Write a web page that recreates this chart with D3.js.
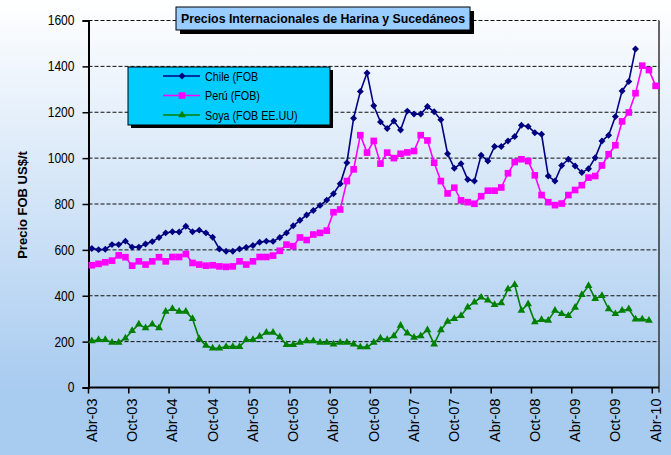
<!DOCTYPE html>
<html>
<head>
<meta charset="utf-8">
<script src="https://cdn.jsdelivr.net/npm/d3@7"></script>
<style>
body { margin: 0; }
</style>
</head>
<body>

<svg id='chart'></svg>

<script>
// monthly categories Abr-03 .. Abr-10
var monthNames = ['Ene', 'Feb', 'Mar', 'Abr', 'May', 'Jun', 'Jul', 'Ago', 'Sep', 'Oct', 'Nov', 'Dic'];
var months = [];
for (var m = 3; m <= 87; m++) {
	months.push(monthNames[m % 12] + '-' + String(3 + Math.floor(m / 12)).padStart(2, '0'));
}

var tickLabels = ['Abr-03', 'Oct-03', 'Abr-04', 'Oct-04', 'Abr-05', 'Oct-05', 'Abr-06', 'Oct-06',
	'Abr-07', 'Oct-07', 'Abr-08', 'Oct-08', 'Abr-09', 'Oct-09', 'Abr-10'];
var yTicks = [0, 200, 400, 600, 800, 1000, 1200, 1400, 1600];

var chile = [606, 601, 603, 623, 623, 638, 612, 612, 626, 636, 654, 674, 679, 678, 703, 679, 686, 674, 655, 604,
	594, 594, 604, 611, 619, 633, 638, 637, 654, 674, 705, 729, 752, 772, 794, 817, 845, 888, 980, 1174,
	1291, 1371, 1228, 1158, 1129, 1162, 1123, 1205, 1192, 1192, 1225, 1202, 1167, 1019, 956, 976, 907, 900, 1013, 987,
	1051, 1051, 1075, 1094, 1143, 1138, 1111, 1104, 922, 900, 968, 995, 966, 937, 954, 1002, 1075, 1100, 1181, 1293,
	1334, 1476];

var peru = [533, 539, 546, 553, 576, 568, 531, 550, 536, 550, 568, 550, 569, 569, 582, 543, 536, 531, 533, 528,
	526, 528, 550, 536, 550, 569, 569, 575, 596, 623, 616, 654, 643, 667, 674, 684, 764, 776, 900, 951,
	1100, 1024, 1075, 976, 1024, 1000, 1019, 1025, 1031, 1100, 1077, 980, 900, 846, 871, 816, 808, 801, 834, 858,
	858, 872, 934, 983, 995, 987, 925, 839, 808, 795, 802, 839, 861, 882, 915, 922, 968, 1017, 1056, 1160,
	1199, 1283, 1403, 1384, 1315];

var soya = [203, 208, 208, 196, 196, 215, 247, 276, 259, 276, 259, 331, 343, 331, 331, 300, 212, 183, 171, 171,
	178, 178, 178, 208, 208, 222, 240, 240, 220, 186, 186, 196, 203, 203, 196, 196, 189, 196, 196, 189,
	176, 176, 196, 215, 208, 225, 270, 237, 218, 225, 251, 189, 251, 288, 300, 313, 350, 372, 393, 380,
	361, 368, 429, 448, 336, 364, 285, 295, 292, 336, 321, 313, 349, 404, 444, 387, 400, 342, 321, 336,
	342, 298, 298, 292];

var series = [
	{ name: 'Chile (FOB', values: chile, color: '#000080', symbol: 'diamond' },
	{ name: 'Perú (FOB)', values: peru, color: '#ff00ff', symbol: 'square' },
	{ name: 'Soya (FOB EE.UU)', values: soya, color: '#008000', symbol: 'triangle' }
];

var dims = {
	width: 671,
	height: 455,
	left: 88.5,
	right: 659,
	top: 20.5,
	bottom: 387.5
};

var sans = '"Liberation Sans", Arial, sans-serif';

// the original picture is squeezed sideways, so horizontal text runs narrower
function squeeze(sel, f) {
	sel.each(function() {
		var w = this.getComputedTextLength();
		d3.select(this)
			.attr('textLength', w * f)
			.attr('lengthAdjust', 'spacingAndGlyphs');
	});
}

var svg = d3.select('#chart')
	.attr('width', dims.width)
	.attr('height', dims.height);

var grad = svg.append('defs')
	.append('linearGradient')
		.attr('id', 'bg')
		.attr('x1', 0).attr('y1', 0)
		.attr('x2', 0).attr('y2', 1);
grad.append('stop').attr('offset', 0).attr('stop-color', '#ffffff');
grad.append('stop').attr('offset', 0.86).attr('stop-color', '#a8cbf0');
grad.append('stop').attr('offset', 1).attr('stop-color', '#a8cbf0');

svg.append('rect')
	.attr('width', dims.width)
	.attr('height', dims.height)
	.attr('fill', 'url(#bg)');

var x = d3.scaleBand().domain(months).range([dims.left, dims.right]);
var y = d3.scaleLinear().domain([0, 1600]).range([dims.bottom, dims.top]);
var bw = x.bandwidth();

// dashed grid lines
svg.append('g')
	.selectAll('line')
	.data(yTicks.filter(d => d > 0))
	.enter()
	.append('line')
		.attr('x1', dims.left)
		.attr('x2', dims.right)
		.attr('y1', d => y(d))
		.attr('y2', d => y(d))
		.attr('stroke', '#111')
		.attr('stroke-width', 1)
		.attr('stroke-dasharray', '4,2');

// right border
svg.append('line')
	.attr('x1', dims.right).attr('x2', dims.right)
	.attr('y1', dims.top).attr('y2', dims.bottom + 5)
	.attr('stroke', '#333')
	.attr('stroke-width', 1.5);

// y axis
var yAxis = svg.append('g')
	.attr('transform', 'translate(' + dims.left + ',0)')
	.call(d3.axisLeft(y).tickValues(yTicks).tickFormat(d3.format('d')).tickSize(6).tickPadding(8));
yAxis.select('.domain').attr('stroke', '#000').attr('stroke-width', 2);
yAxis.selectAll('.tick line').attr('stroke', '#000').attr('stroke-width', 1.5);
yAxis.selectAll('.tick text')
	.attr('font-family', sans)
	.attr('font-size', 14)
	.attr('fill', '#000')
	.call(squeeze, 0.86);

svg.append('text')
	.attr('transform', 'translate(27,205) rotate(-90)')
	.attr('text-anchor', 'middle')
	.attr('font-family', sans)
	.attr('font-weight', 'bold')
	.attr('font-size', 13)
	.text('Precio FOB US$/t');

// x axis
svg.append('line')
	.attr('x1', dims.left).attr('x2', dims.right)
	.attr('y1', dims.bottom).attr('y2', dims.bottom)
	.attr('stroke', '#000')
	.attr('stroke-width', 2);

var xTicks = svg.append('g')
	.selectAll('g')
	.data(tickLabels)
	.enter()
	.append('g');
xTicks.append('line')
	.attr('x1', d => x(d)).attr('x2', d => x(d))
	.attr('y1', dims.bottom).attr('y2', dims.bottom + 6)
	.attr('stroke', '#000')
	.attr('stroke-width', 1.5);
xTicks.append('text')
	.attr('transform', d => 'translate(' + (x(d) + bw / 2 + 5) + ',' + (dims.bottom + 11) + ') rotate(-90)')
	.attr('text-anchor', 'end')
	.attr('font-family', sans)
	.attr('font-size', 14.5)
	.text(d => d);

// series
var symbols = {
	diamond: { type: d3.symbolSquare, size: 24, rotate: 45 },
	square: { type: d3.symbolSquare, size: 44, rotate: 0 },
	triangle: { type: d3.symbolTriangle, size: 26, rotate: 0 }
};

var line = d3.line()
	.x((d, i) => x(months[i]) + bw / 2)
	.y(d => y(d));

series.forEach(function(s) {
	var g = svg.append('g');
	g.append('path')
		.attr('d', line(s.values))
		.attr('fill', 'none')
		.attr('stroke', s.color)
		.attr('stroke-width', 1.6);
	var sym = symbols[s.symbol];
	g.selectAll('path.mark')
		.data(s.values)
		.enter()
		.append('path')
			.attr('class', 'mark')
			.attr('d', d3.symbol().type(sym.type).size(sym.size))
			.attr('transform', (d, i) => 'translate(' + (x(months[i]) + bw / 2) + ',' + y(d) + ') rotate(' + sym.rotate + ')')
			.attr('fill', s.color);
});

// legend
var legend = { left: 128, top: 67, width: 202, height: 58 };
svg.append('rect')
	.attr('x', legend.left + 3).attr('y', legend.top + 3)
	.attr('width', legend.width).attr('height', legend.height)
	.attr('fill', '#000');
svg.append('rect')
	.attr('x', legend.left).attr('y', legend.top)
	.attr('width', legend.width).attr('height', legend.height)
	.attr('fill', '#00ccff')
	.attr('stroke', '#000')
	.attr('stroke-width', 1);

var items = svg.append('g')
	.selectAll('g')
	.data(series)
	.enter()
	.append('g')
		.attr('transform', (d, i) => 'translate(0,' + (legend.top + 9 + i * 19.5) + ')');
items.append('line')
	.attr('x1', 163).attr('x2', 200)
	.attr('stroke', d => d.color)
	.attr('stroke-width', 1.6);
items.append('path')
	.attr('d', d => d3.symbol().type(symbols[d.symbol].type).size(symbols[d.symbol].size)())
	.attr('transform', d => 'translate(182,0) rotate(' + symbols[d.symbol].rotate + ')')
	.attr('fill', d => d.color);
items.append('text')
	.attr('x', 205)
	.attr('dy', '0.36em')
	.attr('font-family', sans)
	.attr('font-size', 12.5)
	.text(d => d.name)
	.call(squeeze, 0.86);

// title
var title = { left: 176, top: 7, width: 294, height: 23 };
svg.append('rect')
	.attr('x', title.left + 4).attr('y', title.top + 4)
	.attr('width', title.width).attr('height', title.height)
	.attr('fill', '#000');
svg.append('rect')
	.attr('x', title.left).attr('y', title.top)
	.attr('width', title.width).attr('height', title.height)
	.attr('fill', '#99ccff')
	.attr('stroke', '#000')
	.attr('stroke-width', 1);
svg.append('text')
	.attr('x', title.left + 5)
	.attr('y', title.top + title.height / 2)
	.attr('dy', '0.36em')
	.attr('font-family', sans)
	.attr('font-weight', 'bold')
	.attr('font-size', 13)
	.attr('textLength', 284)
	.attr('lengthAdjust', 'spacingAndGlyphs')
	.text('Precios Internacionales de Harina y Sucedáneos');
</script>

</body>
</html>
